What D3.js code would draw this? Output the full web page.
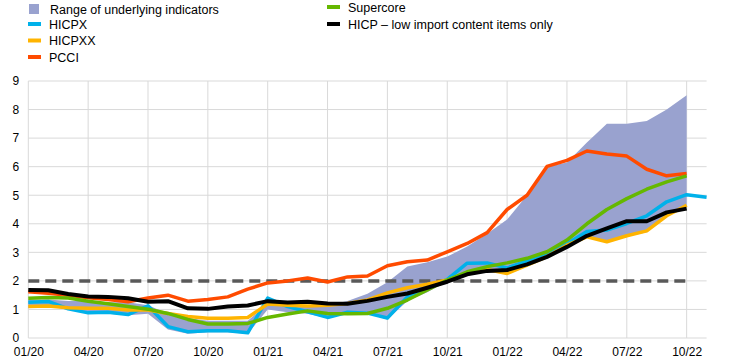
<!DOCTYPE html>
<html><head><meta charset="utf-8">
<script src="https://cdn.jsdelivr.net/npm/d3@7"></script>
<style>
body{margin:0;background:#fff;}
svg text{font-family:"Liberation Sans",Arial,sans-serif;}
</style></head>
<body><svg id="c" width="744" height="364"></svg>
<script>
const months = ["01/20","02/20","03/20","04/20","05/20","06/20","07/20","08/20","09/20","10/20","11/20","12/20",
"01/21","02/21","03/21","04/21","05/21","06/21","07/21","08/21","09/21","10/21","11/21","12/21",
"01/22","02/22","03/22","04/22","05/22","06/22","07/22","08/22","09/22","10/22","11/22"];
const xTickLabels = ["01/20","04/20","07/20","10/20","01/21","04/21","07/21","10/21","01/22","04/22","07/22","10/22"];
const yTicks = [0,1,2,3,4,5,6,7,8,9];
const rangeLow  = [1.05,1.1,1.0,0.85,0.85,0.8,0.85,0.3,0.15,0.2,0.2,0.15,1.0,0.9,0.85,0.7,0.85,0.85,0.65,1.3,1.6,2.0,2.2,2.3,2.25,2.5,2.8,3.2,3.5,3.35,3.55,3.7,4.25,4.6];
const rangeHigh = [1.35,1.35,1.3,1.3,1.25,1.25,1.15,0.85,0.7,0.6,0.6,0.6,1.2,1.2,1.1,1.15,1.3,1.55,1.95,2.5,2.65,2.85,3.2,3.65,4.15,5.0,6.0,6.15,6.85,7.5,7.5,7.6,8.0,8.5];
const hicpx   = [1.25,1.28,1.02,0.88,0.9,0.82,1.13,0.4,0.22,0.25,0.25,0.18,1.4,1.1,0.92,0.72,0.9,0.87,0.7,1.44,1.75,2.05,2.62,2.63,2.45,2.7,2.95,3.3,3.73,3.78,4.01,4.28,4.77,5.02,4.93];
const hicpxx  = [1.1,1.12,1.06,1.04,1.04,0.98,0.98,0.86,0.75,0.69,0.69,0.72,1.19,1.15,1.12,1.15,1.21,1.33,1.58,1.76,1.88,2.03,2.28,2.4,2.26,2.55,2.85,3.25,3.54,3.37,3.58,3.75,4.28,4.65];
const pcci    = [1.62,1.57,1.5,1.41,1.35,1.27,1.4,1.5,1.29,1.35,1.44,1.71,1.93,2.0,2.1,1.96,2.14,2.17,2.53,2.67,2.73,3.02,3.31,3.69,4.5,5.0,6.01,6.22,6.55,6.44,6.37,5.91,5.68,5.76];
const supercore = [1.39,1.42,1.4,1.29,1.2,1.1,1.01,0.86,0.65,0.49,0.49,0.51,0.72,0.84,0.95,0.86,0.85,0.86,1.04,1.33,1.68,2.03,2.32,2.5,2.63,2.79,3.02,3.43,4.0,4.5,4.88,5.21,5.47,5.68];
const lowImport = [1.68,1.67,1.54,1.45,1.44,1.39,1.27,1.29,1.04,1.02,1.1,1.14,1.29,1.24,1.27,1.21,1.2,1.3,1.44,1.56,1.76,1.97,2.23,2.35,2.38,2.58,2.84,3.19,3.58,3.84,4.09,4.09,4.4,4.53];
const targetLevel = 2;

const svg = d3.select("#c");
const x = d3.scalePoint().domain(months).range([28.3, 706.6]);
const y = d3.scaleLinear().domain([0, 9]).range([338, 81]);
const xL = 28.3, xR = 706.6;

// grid
const g = svg.append("g");
g.selectAll("line.h").data(yTicks).join("line")
  .attr("x1", xL).attr("x2", xR).attr("y1", d => y(d)).attr("y2", d => y(d))
  .attr("stroke", "#d9d9d9").attr("stroke-width", 1);
g.selectAll("line.v").data(xTickLabels).join("line")
  .attr("x1", d => x(d)).attr("x2", d => x(d)).attr("y1", y(0)).attr("y2", y(9))
  .attr("stroke", "#d9d9d9").attr("stroke-width", 1);

// axes labels
const xAxis = d3.axisBottom(x).tickValues(xTickLabels).tickSize(0).tickPadding(9);
const ax = svg.append("g").attr("transform", `translate(0,${y(0)})`).call(xAxis);
ax.select(".domain").remove();
ax.selectAll("text").attr("font-size", 12).attr("fill", "#000").attr("font-family", "Liberation Sans, Arial, sans-serif");
const yAxis = d3.axisLeft(y).tickValues(yTicks).tickSize(0).tickPadding(9).tickFormat(d3.format("d"));
const ay = svg.append("g").attr("transform", `translate(${xL},0)`).call(yAxis);
ay.select(".domain").remove();
ay.selectAll("text").attr("font-size", 12).attr("fill", "#000").attr("font-family", "Liberation Sans, Arial, sans-serif");

// area
const rangeData = rangeLow.map((lo, i) => ({m: months[i], lo, hi: rangeHigh[i]}));
svg.append("path").datum(rangeData)
  .attr("d", d3.area().x(d => x(d.m)).y0(d => y(d.lo)).y1(d => y(d.hi)))
  .attr("fill", "#99a2cf");

// dashed target
svg.append("line")
  .attr("x1", x(months[0])).attr("x2", x("10/22"))
  .attr("y1", y(targetLevel)).attr("y2", y(targetLevel))
  .attr("stroke", "#595959").attr("stroke-width", 3.5).attr("stroke-dasharray", "11,6");

const line = d3.line().x(d => x(d.m)).y(d => y(d.v));
const series = [
  {name: "HICPX", vals: hicpx, color: "#00b1ea", w: 3.5},
  {name: "HICPXX", vals: hicpxx, color: "#ffb400", w: 3.5},
  {name: "PCCI", vals: pcci, color: "#ff4b00", w: 3.5},
  {name: "Supercore", vals: supercore, color: "#65b800", w: 3.5},
  {name: "HICP – low import content items only", vals: lowImport, color: "#000000", w: 4}
];
series.forEach(s => {
  svg.append("path").datum(s.vals.map((v, i) => ({m: months[i], v})))
    .attr("d", line).attr("fill", "none").attr("stroke", s.color)
    .attr("stroke-width", s.w).attr("stroke-linejoin", "round");
});

// legend
const leg = svg.append("g").attr("font-size", 12.5).attr("fill", "#000");
leg.append("rect").attr("x", 29).attr("y", 4).attr("width", 10).attr("height", 10).attr("fill", "#99a2cf");
leg.append("text").attr("x", 50).attr("y", 13.5).text("Range of underlying indicators");
const legItems = [
  {s: series[0], lx: 28, ty: 24},
  {s: series[1], lx: 28, ty: 40.5},
  {s: series[2], lx: 28, ty: 57},
  {s: series[3], lx: 327, ty: 7},
  {s: series[4], lx: 327, ty: 24}
];
legItems.forEach(it => {
  leg.append("line").attr("x1", it.lx).attr("x2", it.lx + 13).attr("y1", it.ty).attr("y2", it.ty)
    .attr("stroke", it.s.color).attr("stroke-width", 4);
  leg.append("text").attr("x", it.lx + 21).attr("y", it.ty + 4.5).text(it.s.name);
});
</script></body></html>
